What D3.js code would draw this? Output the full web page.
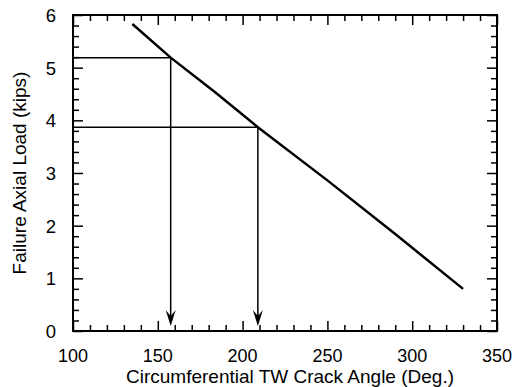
<!DOCTYPE html>
<html><head><meta charset="utf-8">
<script src="https://cdn.jsdelivr.net/npm/d3@7"></script>
<style>body{margin:0;background:#fff}text{font-family:"Liberation Sans",Arial,sans-serif;fill:#000}</style>
</head><body><svg id="c" width="515" height="387"></svg>
<script>
const crackAngle = [135, 157.6, 184, 209, 250, 290, 330];
const failureLoad = [5.83, 5.19, 4.53, 3.87, 2.86, 1.84, 0.8];
const refAngles = [157.6, 209];
const refLoads = [5.19, 3.87];
const xTicks = [100, 150, 200, 250, 300, 350];
const yTicks = [0, 1, 2, 3, 4, 5, 6];
const xTitle = "Circumferential TW Crack Angle (Deg.)";
const yTitle = "Failure Axial Load (kips)";

const svg = d3.select("#c");
const m = {l:73, r:497, t:15, b:331};
const x = d3.scaleLinear().domain([100,350]).range([m.l,m.r]);
const y = d3.scaleLinear().domain([0,6]).range([m.b,m.t]);

const g = svg.append("g");
const xMinor = d3.range(100,351,10).filter(v=>v%50!==0);
const yMinor = d3.range(0,6.01,0.2).map(v=>+v.toFixed(1)).filter(v=>Math.abs(v-Math.round(v))>1e-6);
function ticks(axisGen, tr, vals, len){
  const a = g.append("g").attr("transform",tr).call(axisGen.tickValues(vals).tickSize(len).tickFormat(""));
  a.select(".domain").remove();
  a.selectAll("line").attr("stroke","#000").attr("stroke-width",1.5);
}
ticks(d3.axisTop(x), `translate(0,${m.b})`, xMinor, 6);
ticks(d3.axisTop(x), `translate(0,${m.b})`, xTicks, 10);
ticks(d3.axisBottom(x), `translate(0,${m.t})`, xMinor, 6);
ticks(d3.axisBottom(x), `translate(0,${m.t})`, xTicks, 10);
ticks(d3.axisRight(y), `translate(${m.l},0)`, yMinor, 6);
ticks(d3.axisRight(y), `translate(${m.l},0)`, yTicks, 10);
ticks(d3.axisLeft(y), `translate(${m.r},0)`, yMinor, 6);
ticks(d3.axisLeft(y), `translate(${m.r},0)`, yTicks, 10);

g.append("rect").attr("x",m.l).attr("y",m.t).attr("width",m.r-m.l).attr("height",m.b-m.t)
  .attr("fill","none").attr("stroke","#000").attr("stroke-width",2);

g.selectAll(".xl").data(xTicks).join("text").attr("x",d=>x(d)).attr("y",361.5)
  .attr("text-anchor","middle").attr("font-size",18).text(d=>d);
g.selectAll(".yl").data(yTicks).join("text").attr("x",m.l-17).attr("y",d=>y(d)+7)
  .attr("text-anchor","end").attr("font-size",18.5).text(d=>d);

g.append("text").attr("x",290).attr("y",383).attr("text-anchor","middle").attr("font-size",19).text(xTitle);
g.append("text").attr("transform",`translate(26,${(m.t+m.b)/2}) rotate(-90)`).attr("text-anchor","middle")
  .attr("font-size",19).text(yTitle);

refAngles.forEach((a,i)=>{
  g.append("line").attr("x1",x(100)).attr("x2",x(a)).attr("y1",y(refLoads[i])).attr("y2",y(refLoads[i]))
    .attr("stroke","#000").attr("stroke-width",1.5);
  g.append("line").attr("x1",x(a)).attr("x2",x(a)).attr("y1",y(refLoads[i])).attr("y2",y(0)-10)
    .attr("stroke","#000").attr("stroke-width",1.5);
  const tx = x(a), ty = y(0)-5;
  g.append("path").attr("d",`M${tx},${ty} L${tx-5},${ty-16} L${tx},${ty-10} L${tx+5},${ty-16} Z`).attr("fill","#000");
});

g.append("path").datum(crackAngle.map((a,i)=>[a,failureLoad[i]]))
  .attr("d",d3.line().x(d=>x(d[0])).y(d=>y(d[1])))
  .attr("fill","none").attr("stroke","#000").attr("stroke-width",2.5);
</script></body></html>
